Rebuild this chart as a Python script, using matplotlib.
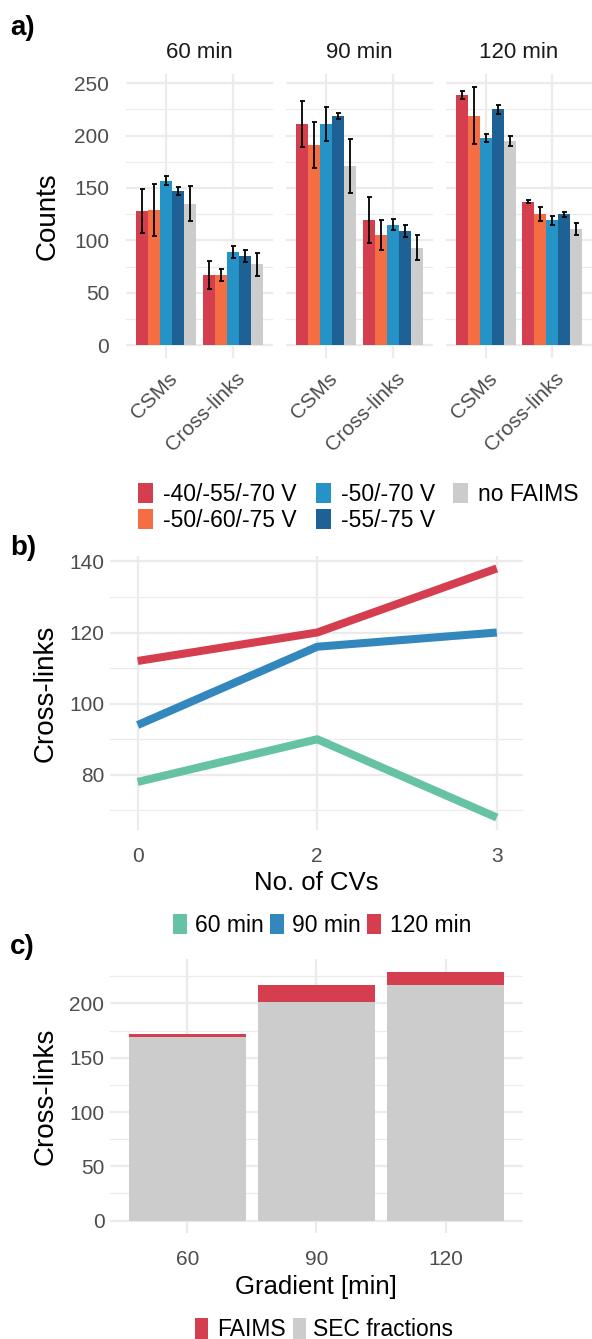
import matplotlib
matplotlib.use("Agg")
import matplotlib.pyplot as plt
from matplotlib.patches import Rectangle
import numpy as np

plt.rcParams['font.family'] = ['Liberation Sans', 'DejaVu Sans']

# ---------------- data ----------------
gradients = ["60 min", "90 min", "120 min"]
categories = ["CSMs", "Cross-links"]
settings = ["-40/-55/-70 V", "-50/-60/-75 V", "-50/-70 V", "-55/-75 V", "no FAIMS"]
setting_colors = ["#D53E4F", "#F46D43", "#2593C5", "#1D6195", "#CCCCCC"]

# means[gradient][category][setting]
means = {
    "60 min":  {"CSMs": [128, 129, 157, 147, 135], "Cross-links": [67, 67, 89, 85, 77]},
    "90 min":  {"CSMs": [211, 191, 211, 219, 171], "Cross-links": [119, 105, 115, 109, 93]},
    "120 min": {"CSMs": [239, 219, 198, 225, 195], "Cross-links": [137, 125, 119, 125, 111]},
}
errs = {
    "60 min":  {"CSMs": [21, 25, 4.5, 4, 17], "Cross-links": [13.5, 6, 6, 6, 11]},
    "90 min":  {"CSMs": [22, 22, 16, 3, 26], "Cross-links": [22, 14, 5, 6, 12]},
    "120 min": {"CSMs": [4, 27, 4, 4, 5], "Cross-links": [1.3, 7, 4, 2.5, 5.5]},
}

cv_labels = ["0", "2", "3"]
line_series = ["60 min", "90 min", "120 min"]
line_values = {"60 min": [78, 90, 68], "90 min": [94, 116, 120], "120 min": [112, 120, 138]}
line_colors = {"60 min": "#66C2A5", "90 min": "#3288BD", "120 min": "#D53E4F"}

grad_labels = ["60", "90", "120"]
sec_values = [169, 201, 217]
faims_values = [3, 16, 12]
stack_colors = {"FAIMS": "#D53E4F", "SEC fractions": "#CCCCCC"}

# ---------------- layout helpers ----------------
W, H = 592, 1339
fig = plt.figure(figsize=(W / 100, H / 100), dpi=100)

def rect(x0, y0, x1, y1):
    return [x0 / W, 1 - y1 / H, (x1 - x0) / W, (y1 - y0) / H]

def ftext(x, y, s, **kw):
    fig.text(x / W, 1 - y / H, s, **kw)

def fkey(x0, yc, w, h, color):
    fig.add_artist(Rectangle((x0 / W, 1 - (yc + h / 2) / H), w / W, h / H,
                             transform=fig.transFigure, facecolor=color,
                             edgecolor='none'))

TICK_C = "#4D4D4D"
GRID_C = "#EBEBEB"

def style(ax, ylabels=True, pad_y=4):
    for s in ax.spines.values():
        s.set_visible(False)
    ax.tick_params(axis='both', which='both', length=0, labelsize=15, colors=TICK_C)
    ax.tick_params(axis='y', pad=pad_y)
    ax.grid(True, which='major', color=GRID_C, lw=1.6, zorder=0)
    ax.grid(True, which='minor', axis='y', color=GRID_C, lw=0.9, zorder=0)
    ax.set_axisbelow(True)
    if not ylabels:
        ax.set_yticklabels([])

# ---------------- panel a ----------------
facets = [(126, 273), (286, 433), (446, 592)]
bw = 0.18
for gi, g in enumerate(gradients):
    ax = fig.add_axes(rect(facets[gi][0], 74, facets[gi][1], 358))
    x = np.arange(len(categories))
    for si, s in enumerate(settings):
        vals = [means[g][c][si] for c in categories]
        ev = [errs[g][c][si] for c in categories]
        xs = x + (si - 2) * bw
        ax.bar(xs, vals, width=bw, color=setting_colors[si], zorder=2)
        ax.errorbar(xs, vals, yerr=ev, fmt='none', ecolor='black',
                    elinewidth=1.3, capsize=1.8, capthick=1.3, zorder=3)
    ax.set_xlim(-0.6, 1.6)
    ax.set_ylim(-12.3, 258.8)
    ax.set_yticks([0, 50, 100, 150, 200, 250])
    ax.set_yticks([25, 75, 125, 175, 225], minor=True)
    ax.set_xticks(x)
    ax.set_xticklabels([])
    style(ax, ylabels=(gi == 0), pad_y=12)
    for xi, c in zip(x, categories):
        ax.annotate(c, xy=(xi, 0), xycoords=('data', 'axes fraction'),
                    xytext=(2, -11), textcoords='offset pixels',
                    rotation=45, ha='right', va='top', rotation_mode='anchor',
                    fontsize=15, color=TICK_C)
    if gi == 0:
        ax.set_ylabel("Counts", fontsize=20, labelpad=10)
    ftext((facets[gi][0] + facets[gi][1]) / 2, 53, g, fontsize=16,
          ha='center', va='center', color='#1A1A1A')

ftext(10, 28, "a)", fontsize=20, fontweight='bold', ha='left', va='center')

# legend a
leg_cols = [(138, 163), (316, 341), (453, 478)]
leg_rows = [493, 519]
for i, (s, c) in enumerate(zip(settings, setting_colors)):
    col, row = i // 2, i % 2
    fkey(leg_cols[col][0], leg_rows[row], 15, 20, c)
    ftext(leg_cols[col][1], leg_rows[row] + 1, s, fontsize=16.5, ha='left', va='center')

# ---------------- panel b ----------------
axb = fig.add_axes(rect(110, 556, 523, 830))
xb = np.arange(len(cv_labels))
for s in line_series:
    axb.plot(xb, line_values[s], color=line_colors[s], lw=5.8,
             solid_capstyle='butt', solid_joinstyle='round', zorder=3)
axb.set_xlim(-0.154, 2.146)
axb.set_ylim(64.5, 141.5)
axb.set_yticks([80, 100, 120, 140])
axb.set_yticks([70, 90, 110, 130], minor=True)
axb.set_xticks(xb)
axb.set_xticklabels(cv_labels)
style(axb, pad_y=4)
axb.tick_params(axis='x', pad=12)
axb.set_ylabel("Cross-links", fontsize=20, labelpad=8)
ftext(316, 883, "No. of CVs", fontsize=18.5, ha='center', va='center')
ftext(10, 548, "b)", fontsize=20, fontweight='bold', ha='left', va='center')

leg_b = [(173, 195), (270, 292), (367, 390)]
for (kx, tx), s in zip(leg_b, line_series):
    fkey(kx, 924, 14, 20, line_colors[s])
    ftext(tx, 925, s, fontsize=16.5, ha='left', va='center')

# ---------------- panel c ----------------
axc = fig.add_axes(rect(110, 959, 523, 1233))
xc = np.arange(len(grad_labels))
axc.bar(xc, sec_values, width=0.9, color=stack_colors["SEC fractions"], zorder=2)
axc.bar(xc, faims_values, bottom=sec_values, width=0.9,
        color=stack_colors["FAIMS"], zorder=2)
axc.set_xlim(-0.6, 2.6)
axc.set_ylim(-11.5, 241)
axc.set_yticks([0, 50, 100, 150, 200])
axc.set_yticks([25, 75, 125, 175, 225], minor=True)
axc.set_xticks(xc)
axc.set_xticklabels(grad_labels)
style(axc, pad_y=4)
axc.tick_params(axis='x', pad=12)
axc.set_ylabel("Cross-links", fontsize=20, labelpad=8)
ftext(316, 1287, "Gradient [min]", fontsize=18.5, ha='center', va='center')
ftext(10, 947, "c)", fontsize=20, fontweight='bold', ha='left', va='center')

fkey(195, 1329, 13, 21, stack_colors["FAIMS"])
ftext(217, 1330, "FAIMS", fontsize=16.5, ha='left', va='center')
fkey(293, 1329, 13, 21, stack_colors["SEC fractions"])
ftext(313, 1330, "SEC fractions", fontsize=16.5, ha='left', va='center')

fig.savefig("out.png", dpi=100, facecolor='white')
